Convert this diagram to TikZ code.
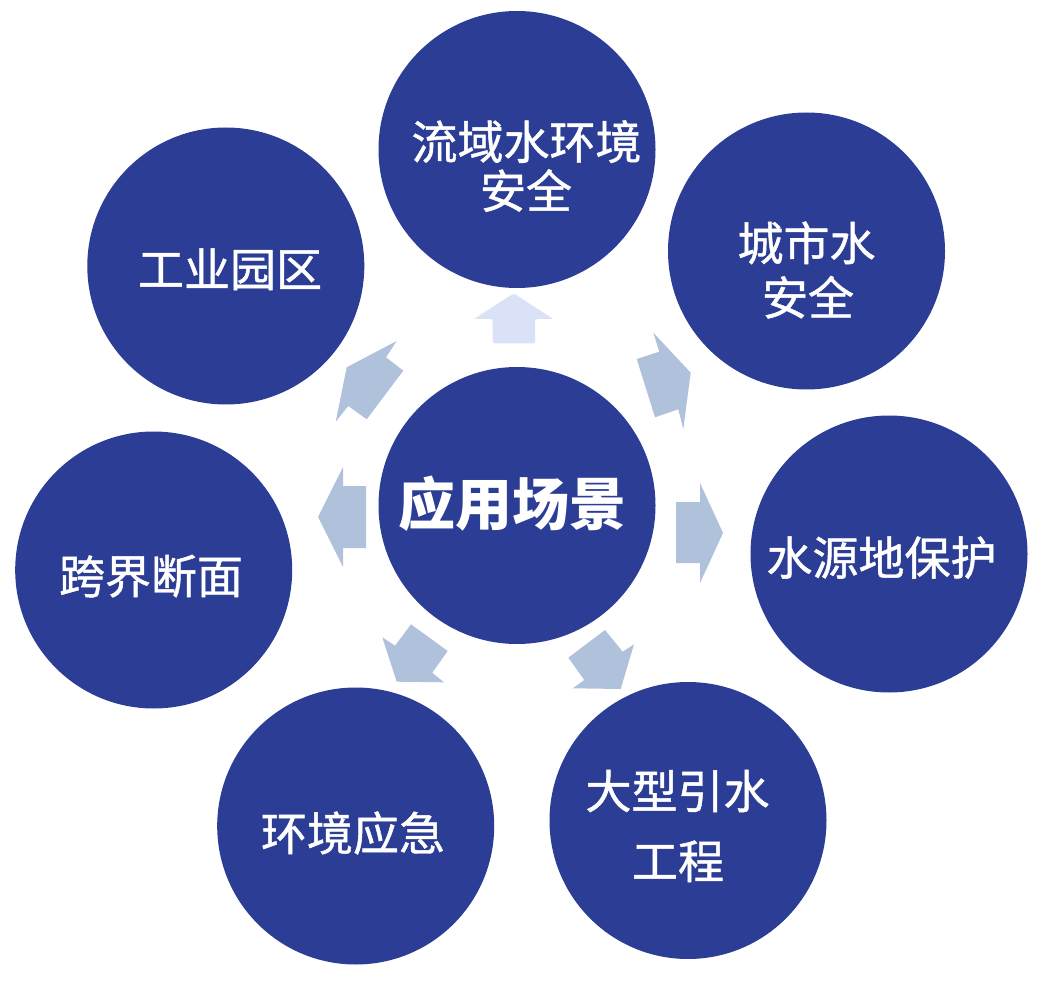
\documentclass[tikz,border=0pt]{standalone}
\usepackage{fontspec}
\newfontfamily\cjk{Noto Sans CJK SC}
\newfontfamily\cjkm{Noto Sans CJK SC}[FakeBold=1]
\definecolor{circ}{RGB}{43,61,148}
\definecolor{arr}{RGB}{176,193,219}
\definecolor{arrtop}{RGB}{218,226,248}
\begin{document}
\begin{tikzpicture}[x=1pt,y=-1pt,
  bubble/.style={circle,fill=circ,draw=none,minimum size=277pt,inner sep=0pt},
  lbl/.style={text=white,font=\cjkm\fontsize{46}{46}\selectfont,inner sep=0pt,anchor=base},
  title/.style={text=white,font=\cjk\bfseries\fontsize{57}{57}\selectfont,inner sep=0pt,anchor=base},
  blockarrow/.style={fill=arr,draw=none},
  toparrow/.style={fill=arrtop,draw=none,rounded corners=2pt}]
\useasboundingbox (0,0) rectangle (1042,1000);
% circles
\node[bubble] (c0) at (517,505.5) {};
\node[bubble] (c1) at (517,149.5) {};
\node[bubble] (c2) at (806.5,251) {};
\node[bubble] (c3) at (889,554) {};
\node[bubble] (c4) at (688,820.5) {};
\node[bubble] (c5) at (355.7,826) {};
\node[bubble] (c6) at (153.7,570) {};
\node[bubble] (c7) at (225.8,266) {};
% arrows
\fill[toparrow] (513.7,293.3) -- (553.3,319) -- (535,319) -- (535,343.3) -- (492.7,343.3) -- (492.7,319) -- (474,319) -- cycle;
\fill[blockarrow] (653.3,332.7) -- (659.3,351.7) -- (636.7,359) -- (655,417.3) -- (678.3,409.3) -- (683.3,429) -- (690.7,372.7) -- cycle;
\fill[blockarrow] (676,502) -- (700,502) -- (700,483) -- (723,533) -- (700,583) -- (700,563) -- (676,563) -- cycle;
\fill[blockarrow] (605,630) -- (622.7,651.7) -- (634,644.3) -- (620.7,689) -- (572.7,688.3) -- (584.3,680) -- (568.3,657.7) -- cycle;
\fill[blockarrow] (411,624.3) -- (447.7,651) -- (432.3,672.7) -- (444,682.3) -- (396.7,681.7) -- (382.3,637.3) -- (395,645.7) -- cycle;
\fill[blockarrow] (366,486) -- (343,486) -- (343,467) -- (318,517) -- (343,567) -- (343,548) -- (366,548) -- cycle;
\fill[blockarrow] (346.7,367.3) -- (396.7,341) -- (386,357.3) -- (403.3,370.7) -- (366.7,419.3) -- (348.3,406) -- (335.7,421.7) -- cycle;
% labels
\node[title] (t0) at (512.5,525.7) {应用场景};
\node[lbl] (t1a) at (526.5,159.2) {流域水环境};
\node[lbl] (t1b) at (526,208.3) {安全};
\node[lbl] (t2a) at (806.5,260.5) {城市水};
\node[lbl] (t2b) at (808,315) {安全};
\node[lbl] (t3) at (881.5,575) {水源地保护};
\node[lbl] (t4a) at (677.5,808.5) {大型引水};
\node[lbl] (t4b) at (678,878.5) {工程};
\node[lbl] (t5) at (353,850.5) {环境应急};
\node[lbl] (t6) at (151,593.5) {跨界断面};
\node[lbl] (t7) at (230,286.5) {工业园区};
\end{tikzpicture}
\end{document}
